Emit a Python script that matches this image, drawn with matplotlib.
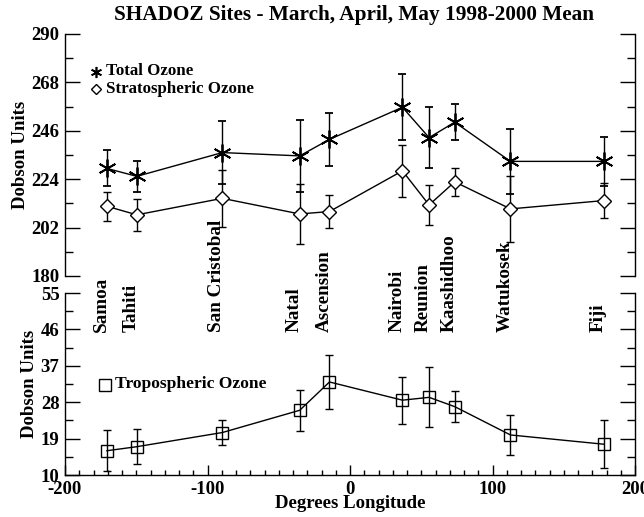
import matplotlib
matplotlib.use("Agg")
import matplotlib.pyplot as plt
import numpy as np
from matplotlib.ticker import MultipleLocator, FixedLocator
import matplotlib.transforms as mtransforms

plt.rcParams['font.family'] = ['Liberation Serif', 'DejaVu Serif']
plt.rcParams['font.weight'] = 'bold'
plt.rcParams['axes.unicode_minus'] = False

sites = ["Samoa", "Tahiti", "San Cristobal", "Natal", "Ascension",
         "Nairobi", "Reunion", "Kaashidhoo", "Watukosek", "Fiji"]
lon = [-170.6, -149.6, -89.6, -35.3, -14.4, 36.8, 55.5, 73.5, 112.6, 178.4]

total = [228.9, 225.3, 236.1, 234.6, 242.1, 256.7, 242.9, 249.9, 232.1, 232.1]
total_err = [8.2, 6.9, 14.3, 16.2, 12.2, 15.0, 13.9, 8.2, 14.9, 11.1]

strat = [211.7, 207.8, 215.3, 208.2, 209.3, 227.8, 212.3, 222.8, 210.5, 214.3]
strat_err = [6.5, 7.2, 13.1, 13.7, 7.4, 11.7, 9.2, 6.4, 15.0, 8.1]

trop = [16.0, 17.0, 20.5, 26.0, 33.0, 28.5, 29.2, 26.9, 19.9, 17.6]
trop_err = [5.1, 4.3, 3.0, 5.0, 6.6, 5.8, 7.4, 3.8, 4.9, 5.9]

W, H = 644, 517
fig = plt.figure(figsize=(W / 100, H / 100), dpi=100)

L, R = 65, 635
ax1 = fig.add_axes([L / W, (H - 276) / H, (R - L) / W, (276 - 34) / H])
ax2 = fig.add_axes([L / W, (H - 475) / H, (R - L) / W, (475 - 293) / H])

asterisk = (6, 2, 0)

for ax in (ax1, ax2):
    ax.set_xlim(-200, 200)
    ax.spines['top'].set_visible(False)
    for s in ('left', 'right', 'bottom'):
        ax.spines[s].set_linewidth(1.0)
    ax.tick_params(axis='y', which='major', direction='in', length=11, width=1,
                   left=True, right=True, labelsize=13.5, pad=4)
    ax.tick_params(axis='y', which='minor', direction='in', length=6, width=1,
                   left=True, right=True)

ax1.spines['bottom'].set_visible(False)
ax1.tick_params(axis='x', which='both', bottom=False, labelbottom=False)
ax1.set_ylim(180, 290)
ax1.yaxis.set_major_locator(FixedLocator([180, 202, 224, 246, 268, 290]))
ax1.yaxis.set_minor_locator(FixedLocator([191, 213, 235, 257, 279]))

ax2.set_ylim(10, 55)
ax2.yaxis.set_major_locator(FixedLocator([10, 19, 28, 37, 46, 55]))
ax2.yaxis.set_minor_locator(FixedLocator([14.5, 23.5, 32.5, 41.5, 50.5]))
ax2.xaxis.set_major_locator(FixedLocator([-200, -100, 0, 100, 200]))
ax2.xaxis.set_minor_locator(MultipleLocator(10))
ax2.tick_params(axis='x', which='major', direction='in', length=7, width=1,
                labelsize=13.5, pad=4)
ax2.tick_params(axis='x', which='minor', direction='in', length=3.5, width=1)

ekw = dict(color='black', lw=1.0, elinewidth=1.0, capsize=3, capthick=1.0)

ax1.errorbar(lon, total, yerr=total_err, marker=asterisk, ms=13, mew=1.3,
             mfc='none', mec='black', **ekw)
ax1.errorbar(lon, strat, yerr=strat_err, marker='D', ms=7, mew=1.0,
             mfc='white', mec='black', **ekw)
ax2.errorbar(lon, trop, yerr=trop_err, marker='s', ms=9, mew=1.0,
             mfc='none', mec='black', **ekw)

for ax in (ax1, ax2):
    ax.set_ylabel("Dobson Units", fontsize=13.5, fontweight='bold', labelpad=2)

ax2.set_xlabel("Degrees Longitude", fontsize=13.5, fontweight='bold', labelpad=-1.5)
fig.text(0.5 + 32 / W, 1 - 15 / H, "SHADOZ Sites - March, April, May 1998-2000 Mean",
         ha='center', va='center', fontsize=15.3, fontweight='bold')

# legends
ax1.plot([-178], [272.9], marker=asterisk, ms=8, mew=1.2, color='black')
ax1.text(-171, 273.2, "Total Ozone", fontsize=12.2, fontweight='bold',
         va='center', ha='left')
ax1.plot([-178], [264.9], marker='D', ms=5.5, mew=1.0, mfc='white', mec='black')
ax1.text(-171, 265.2, "Stratospheric Ozone", fontsize=12.2, fontweight='bold',
         va='center', ha='left')

ax2.plot([-172], [32.3], marker='s', ms=8, mew=1.0, mfc='none', mec='black')
ax2.text(-165, 32.5, "Tropospheric Ozone", fontsize=12.6, fontweight='bold',
         va='center', ha='left')

# site names
offset = mtransforms.offset_copy(ax2.transData, fig=fig, x=3, y=0, units='dots')
for name, x in zip(sites, lon):
    ax2.text(x, 45.3, name, rotation=90, ha='right', va='bottom',
             fontsize=13.8, fontweight='bold', transform=offset, clip_on=False,
             zorder=5)

fig.savefig("out.png", dpi=100)
